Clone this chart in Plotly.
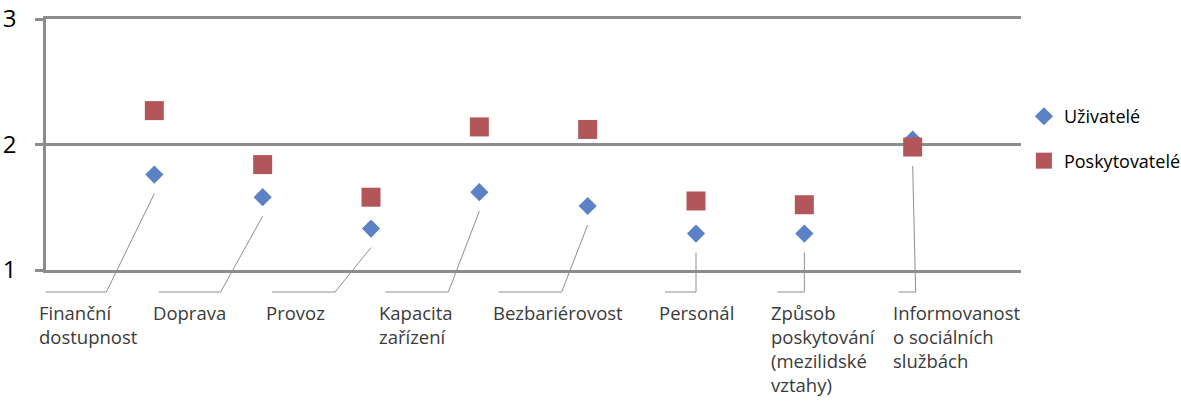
import plotly.graph_objects as go

# ---- data ----
categories = [
    "Finanční<br>dostupnost",
    "Doprava",
    "Provoz",
    "Kapacita<br>zařízení",
    "Bezbariérovost",
    "Personál",
    "Způsob<br>poskytování<br>(mezilidské<br>vztahy)",
    "Informovanost<br>o sociálních<br>službách",
]
positions = [1, 2, 3, 4, 5, 6, 7, 8]
uzivatele = [1.76, 1.58, 1.33, 1.62, 1.51, 1.29, 1.29, 2.04]
poskytovatele = [2.27, 1.84, 1.58, 2.14, 2.12, 1.55, 1.52, 1.98]
y_ticks = [1, 2, 3]

# ---- layout constants ----
W, H = 1181, 401
ML, MR, MT, MB = 46, 160, 19, 131
PW, PH = W - ML - MR, H - MT - MB
XR, YR = (0, 9), (1, 3)

# label placement (pixel offsets relative to the category's marker)
label_dx = [-117, -112, -107, -102, -97, -39, -35, -22]
bend_dx = [-48, -42, -36, -31, -26, 0, 0, 3]
LABEL_TOP_PX = 28      # below the y=1 line
BEND_PX = 22           # below the y=1 line
GAP_PX = 19            # gap between lowest marker and leader start

GRID = "#8c8c8c"
FONT = "Open Sans"
BLUE = "#5b82c5"
RED = "#b3565a"

fig = go.Figure()
fig.add_trace(go.Scatter(
    x=positions, y=uzivatele, mode="markers", name="Uživatelé",
    marker=dict(symbol="diamond", size=14, color=BLUE),
    legendgroup="u", cliponaxis=False,
))
fig.add_trace(go.Scatter(
    x=positions, y=poskytovatele, mode="markers", name="Poskytovatelé",
    marker=dict(symbol="square", size=19, color=RED),
    legendgroup="p", cliponaxis=False,
))


def ypaper(v):
    return (v - YR[0]) / (YR[1] - YR[0])


def xpaper(xdata, dpx=0.0):
    return (xdata - XR[0]) / (XR[1] - XR[0]) + dpx / PW


shapes, annotations = [], []
for pos, cat, u, p, ldx, bdx in zip(positions, categories, uzivatele, poskytovatele, label_dx, bend_dx):
    top_y = ypaper(min(u, p)) - GAP_PX / PH
    bend_y = -BEND_PX / PH
    top_x = xpaper(pos)
    bend_x = xpaper(pos, bdx)
    start_x = xpaper(pos, ldx + 8)
    shapes.append(dict(
        type="path", xref="paper", yref="paper",
        path=f"M {top_x} {top_y} L {bend_x} {bend_y} L {start_x} {bend_y}",
        line=dict(color="#8f8f8f", width=1), layer="above",
    ))
    annotations.append(dict(
        x=xpaper(pos, ldx), xref="paper", xanchor="left",
        y=-LABEL_TOP_PX / PH, yref="paper", yanchor="top",
        text=cat, showarrow=False, align="left",
        font=dict(family=FONT, size=18.5, color="#3a3a3a"),
    ))

fig.update_layout(
    width=W, height=H,
    margin=dict(l=ML, r=MR, t=MT, b=MB, pad=0, autoexpand=False),
    paper_bgcolor="white", plot_bgcolor="white",
    font=dict(family=FONT, color="black"),
    showlegend=True,
    legend=dict(
        x=1.003, xanchor="left", y=0.685, yanchor="top",
        font=dict(family=FONT, size=18, color="black"),
        tracegroupgap=18, bgcolor="rgba(0,0,0,0)",
    ),
    xaxis=dict(
        range=list(XR), showgrid=False, zeroline=False,
        showticklabels=False, ticks="",
        showline=True, mirror=True, linecolor=GRID, linewidth=2.5,
        automargin=False,
    ),
    yaxis=dict(
        range=list(YR), tickvals=y_ticks, ticktext=[str(t) for t in y_ticks],
        showgrid=True, gridcolor=GRID, gridwidth=2.5, zeroline=False,
        showline=True, linecolor=GRID, linewidth=2.5,
        ticks="outside", ticklen=8, tickcolor=GRID, tickwidth=2.5,
        tickfont=dict(family=FONT, size=24, color="black"),
        ticklabelstandoff=14, automargin=False,
    ),
    shapes=shapes, annotations=annotations,
)

fig.write_html(
    "out.html",
    config={"displayModeBar": False},
    post_script="document.body.style.margin='0';",
)
